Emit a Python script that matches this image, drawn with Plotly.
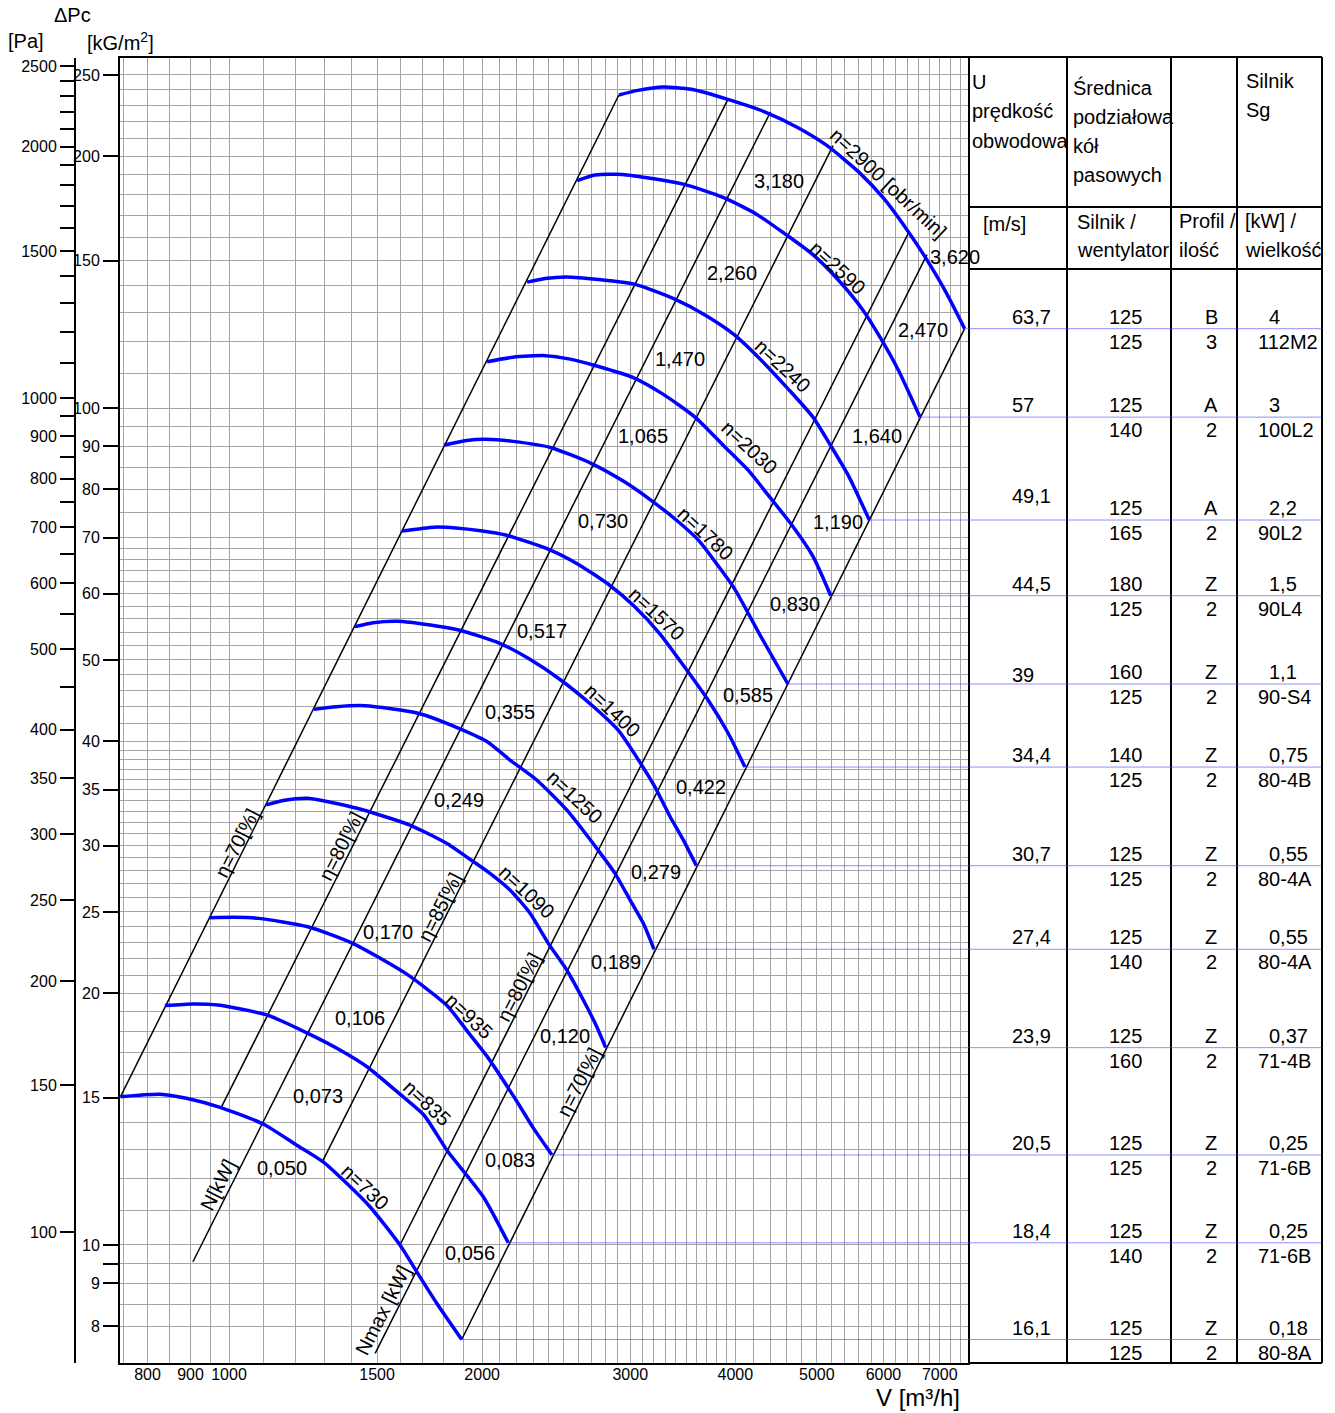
import numpy as np
import plotly.graph_objects as go

W, H = 1335, 1413
FONT = "Liberation Sans, Arial, sans-serif"

# ---------------- data: fan curves  V [m3/h]  vs  dPc [kG/m2] ----------------
rpm = [730, 835, 935, 1090, 1250, 1400, 1570, 1780, 2030, 2240, 2590, 2900]

v730 = [743, 828, 890, 976, 1098, 1204, 1294, 1380, 1471, 1597, 1672, 1766, 1891]
p730 = [15.04, 15.14, 14.97, 14.6, 13.95, 13.16, 12.57, 11.85, 11.11, 10.0, 9.29, 8.52, 7.71]

v835 = [839, 907, 970, 1109, 1241, 1355, 1459, 1601, 1705, 1815, 2006, 2148]
p835 = [19.32, 19.41, 19.35, 18.83, 17.9, 17.1, 16.33, 15.11, 14.3, 12.99, 11.42, 10.06]

v935 = [947, 1015, 1085, 1241, 1403, 1622, 1814, 1925, 2028, 2194, 2300, 2421]
p935 = [24.6, 24.63, 24.56, 24.0, 22.93, 21.11, 19.35, 17.95, 16.79, 14.9, 13.8, 12.81]

v1090 = [1107, 1160, 1241, 1419, 1641, 1814, 1940, 2043, 2158, 2280, 2397, 2521, 2638, 2737, 2805]
p1090 = [33.56, 33.96, 34.18, 33.25, 31.75, 30.2, 28.84, 27.8, 26.56, 24.91, 22.93, 21.31, 19.62, 18.23, 17.21]

v1250 = [1262, 1342, 1451, 1678, 1876, 2028, 2158, 2322, 2521, 2737, 2877, 2998, 3109, 3201]
p1250 = [43.65, 43.97, 44.09, 43.18, 41.43, 39.93, 37.97, 35.94, 33.1, 29.78, 27.8, 25.84, 24.23, 22.56]

v1400 = [1411, 1484, 1587, 1735, 1876, 2098, 2269, 2480, 2713, 2901, 3068, 3208, 3346, 3470, 3595]
p1400 = [54.8, 55.4, 55.62, 55.05, 54.3, 52.35, 50.23, 47.32, 43.97, 41.24, 37.97, 35.29, 32.48, 30.46, 28.39]

v1570 = [1606, 1754, 1860, 1992, 2133, 2399, 2594, 2833, 3033, 3255, 3467, 3712, 3921, 4107]
p1570 = [71.29, 72.06, 71.9, 71.35, 70.51, 67.79, 65.17, 61.45, 57.95, 53.7, 49.31, 44.79, 40.9, 37.24]

v1780 = [1803, 1916, 2022, 2176, 2411, 2698, 2946, 3185, 3411, 3618, 3799, 3990, 4280, 4619]
p1780 = [90.34, 91.48, 91.76, 91.23, 89.72, 85.83, 81.73, 77.42, 73.34, 69.47, 65.17, 60.84, 53.55, 46.8]

v2030 = [2027, 2176, 2376, 2544, 2724, 3033, 3281, 3582, 3874, 4148, 4398, 4662, 4947, 5194]
p2030 = [113.6, 115.0, 115.5, 114.4, 112.4, 108.6, 103.9, 97.53, 90.16, 84.17, 78.19, 72.62, 66.48, 59.67]

v2240 = [2262, 2376, 2519, 2751, 3033, 3379, 3689, 3990, 4271, 4618, 4947, 5194, 5455, 5773]
p2240 = [141.4, 142.8, 143.4, 142.4, 140.6, 135.1, 129.0, 122.3, 114.7, 105.5, 97.53, 90.16, 82.93, 73.48]

v2590 = [2594, 2724, 2888, 3155, 3479, 3874, 4229, 4573, 4947, 5297, 5673, 5956, 6255, 6632]
p2590 = [186.9, 189.8, 190.2, 188.3, 185.0, 178.4, 170.7, 161.7, 152.5, 142.4, 130.9, 121.1, 110.8, 97.53]

v2900 = [2908, 3063, 3281, 3547, 3893, 4334, 4755, 5143, 5618, 6015, 6377, 6697, 7101, 7493]
p2900 = [236.6, 239.6, 241.9, 240.3, 234.2, 225.9, 216.1, 205.8, 191.1, 177.6, 164.1, 152.5, 138.2, 124.4]

# ---------------- data: straight (dp ~ V^2) lines ----------------
eta70_left_v, eta70_left_p = [743, 2908], [15.04, 236.6]
eta80_left_v, eta80_left_p = [980, 3924], [14.63, 234.2]
n_line_v, n_line_p = [906, 4405], [9.55, 225.9]
eta85_v, eta85_p = [1294, 5227], [12.63, 205.8]
eta80_right_v, eta80_right_p = [1597, 6440], [10.0, 162.6]
nmax_line_v, nmax_line_p = [1492, 6760], [7.42, 152.5]
eta70_right_v, eta70_right_p = [1891, 7493], [7.71, 124.4]

# power values [kW]
power_n = [0.050, 0.073, 0.106, 0.170, 0.249, 0.355, 0.517, 0.730, 1.065, 1.470, 2.260, 3.180]
power_nmax = [0.056, 0.083, 0.120, 0.189, 0.279, 0.422, 0.585, 0.830, 1.190, 1.640, 2.470, 3.620]

# ---------------- data: table (rows top -> bottom, i.e. 2900 ... 730 rpm) ----------------
tab_u = ["63,7", "57", "49,1", "44,5", "39", "34,4", "30,7", "27,4", "23,9", "20,5", "18,4", "16,1"]
tab_d_motor = ["125", "125", "125", "180", "160", "140", "125", "125", "125", "125", "125", "125"]
tab_d_fan = ["125", "140", "165", "125", "125", "125", "125", "140", "160", "125", "140", "125"]
tab_profile = ["B", "A", "A", "Z", "Z", "Z", "Z", "Z", "Z", "Z", "Z", "Z"]
tab_count = ["3", "2", "2", "2", "2", "2", "2", "2", "2", "2", "2", "2"]
tab_kw = ["4", "3", "2,2", "1,5", "1,1", "0,75", "0,55", "0,55", "0,37", "0,25", "0,25", "0,18"]
tab_size = ["112M2", "100L2", "90L2", "90L4", "90-S4", "80-4B", "80-4A", "80-4A", "71-4B", "71-6B", "71-6B", "80-8A"]

# ---------------- axis ticks / grid ----------------
x_labels = [800, 900, 1000, 1500, 2000, 3000, 4000, 5000, 6000, 7000]
x_grid = [750, 800, 850, 900, 950] + list(range(1000, 4000, 100)) + list(range(4000, 7500, 200))
y_labels = [8, 9, 10, 15, 20, 25, 30, 35, 40, 50, 60, 70, 80, 90, 100, 150, 200, 250]
y_grid = [8, 8.5, 9, 9.5] + list(range(10, 40)) + list(range(40, 70, 2)) + list(range(70, 100, 5)) + list(range(100, 260, 10))
pa_labels = [100, 150, 200, 250, 300, 350, 400, 500, 600, 700, 800, 900, 1000, 1500, 2000, 2500]
pa_minor = [450, 550, 650, 750, 850, 950, 1100, 1200, 1300, 1400, 1600, 1700, 1800, 1900, 2100, 2200, 2300, 2400]

# ---------------- layout helpers (pixel -> paper) ----------------
def px(x):
    return x / W


def py(y):
    return 1 - y / H


XR = [2.8704, 3.8787]
YR = [0.859, 2.4182]
GRID = "#a4a4a4"
LBL = 20     # in-plot label size
TAB = 20     # table text size
TICK = 16

fig = go.Figure()

curves = [(v730, p730), (v835, p835), (v935, p935), (v1090, p1090), (v1250, p1250), (v1400, p1400),
          (v1570, p1570), (v1780, p1780), (v2030, p2030), (v2240, p2240), (v2590, p2590), (v2900, p2900)]

lines = [(eta70_left_v, eta70_left_p), (eta80_left_v, eta80_left_p), (n_line_v, n_line_p),
         (eta85_v, eta85_p), (eta80_right_v, eta80_right_p), (nmax_line_v, nmax_line_p),
         (eta70_right_v, eta70_right_p)]

for v, p in lines:
    fig.add_trace(go.Scatter(x=v, y=p, mode="lines", line=dict(color="black", width=1.5),
                             hoverinfo="skip", showlegend=False))

for v, p in curves:
    fig.add_trace(go.Scatter(x=v, y=p, mode="lines",
                             line=dict(color="#0000ff", width=3.5, shape="spline", smoothing=0.6),
                             hoverinfo="skip", showlegend=False))

# invisible trace so the Pa axis is active
fig.add_trace(go.Scatter(x=v730, y=[p * 9.81 for p in p730], yaxis="y2", mode="lines",
                         line=dict(width=0), opacity=0, hoverinfo="skip", showlegend=False))

ann = []
shapes = []


def text(x, y, s, size=LBL, xanchor="center", yanchor="middle", angle=0, xref="paper", yref="paper",
         yshift=0, align="center"):
    ann.append(dict(x=x, y=y, xref=xref, yref=yref, text=s, showarrow=False, xanchor=xanchor,
                    yanchor=yanchor, textangle=angle, yshift=yshift, align=align,
                    font=dict(family=FONT, size=size, color="black")))


def fmt(v):
    return f"{v:.3f}".replace(".", ",")


# ---- rpm labels (positions as log10 of data, as plotly annotations need on log axes)
rpm_pos = [(3.1617, 1.0693), (3.2354, 1.1697), (3.2854, 1.2736), (3.3543, 1.4217), (3.4114, 1.5352),
           (3.4554, 1.6392), (3.5089, 1.7539), (3.566, 1.8507), (3.6183, 1.9534), (3.6587, 2.0502),
           (3.7241, 2.1673), (3.7836, 2.2688)]
for i, (n, (lx, ly)) in enumerate(zip(rpm, rpm_pos)):
    s = f"n={n}" + (" [obr/min]" if i == len(rpm) - 1 else "")
    text(lx, ly, s, angle=43, xref="x", yref="y")

# ---- power labels
n_pos = [(3.063, 1.092), (3.1058, 1.178), (3.1558, 1.2712), (3.1891, 1.374), (3.2735, 1.5317),
         (3.3341, 1.6368), (3.3722, 1.7336), (3.4447, 1.865), (3.4923, 1.9665), (3.5363, 2.0586),
         (3.5981, 2.1613), (3.654, 2.2712)]
nmax_pos = [(3.2866, 0.9904), (3.3341, 1.1016), (3.3995, 1.2497), (3.4602, 1.3381), (3.5077, 1.4456),
            (3.5612, 1.5472), (3.6171, 1.6571), (3.673, 1.7658), (3.7241, 1.8638), (3.7705, 1.9665),
            (3.8252, 2.0932), (3.8633, 2.1804)]
for val, (lx, ly) in zip(power_n, n_pos):
    text(lx, ly, fmt(val), xref="x", yref="y")
for val, (lx, ly) in zip(power_nmax, nmax_pos):
    text(lx, ly, fmt(val), xref="x", yref="y")

# ---- line labels
line_labels = [("η=70[%]", 3.0095, 1.4803), ("η=80[%]", 3.1332, 1.4767), ("η=85[%]", 3.2509, 1.4038),
               ("η=80[%]", 3.3448, 1.3082), ("η=70[%]", 3.4162, 1.1947), ("N[kW]", 2.9869, 1.0717),
               ("Nmax [kW]", 3.1831, 0.9223)]
for s, lx, ly in line_labels:
    text(lx, ly, s, angle=-63, xref="x", yref="y")

# ---- axis titles
text(px(72), py(15), "ΔPc", size=20)
text(px(26), py(41), "[Pa]", size=20)
text(px(120), py(41), "[kG/m<sup>2</sup>]", size=20)
text(px(918), py(1397), "V [m³/h]", size=24)

# ---- table frame
TL, TR = 968, 1322
TT, TB = 57, 1363
tab_lines = [(TL, TT, TR, TT), (TL, TB, TR, TB), (TR, TT, TR, TB), (1067, TT, 1067, TB),
             (1171, TT, 1171, TB), (1237, TT, 1237, TB), (TL, 207, TR, 207), (TL, 269, TR, 269)]
for x0, y0, x1, y1 in tab_lines:
    shapes.append(dict(type="line", xref="paper", yref="paper", x0=px(x0), y0=py(y0), x1=px(x1), y1=py(y1),
                       line=dict(color="black", width=2)))

# header texts
for s, x, y in [("U", 970, 82), ("prędkość", 970, 111), ("obwodowa", 970, 141),
                ("Średnica", 1071, 88), ("podziałowa", 1071, 117), ("kół", 1071, 146), ("pasowych", 1071, 175),
                ("Silnik", 1244, 81), ("Sg", 1244, 110),
                ("Silnik /", 1075, 222), ("wentylator", 1075, 250),
                ("Profil /", 1177, 221), ("ilość", 1177, 250),
                ("[kW] /", 1243, 221), ("wielkość", 1243, 250)]:
    text(px(x), py(y), s, size=TAB, xanchor="left")
text(px(1004), py(224), "[m/s]", size=TAB)

# rows: aligned to the end point of each curve (top row = highest speed)
ends = [(c[0][-1], c[1][-1]) for c in curves][::-1]
u_shift = {2: 24, 4: 9}
for i, (ve, pe) in enumerate(ends):
    ly = np.log10(pe)
    text(px(1010), ly, tab_u[i], size=TAB, xanchor="left", yref="y", yshift=u_shift.get(i, 12))
    text(px(1125), ly, tab_d_motor[i], size=TAB, yref="y", yshift=12)
    text(px(1125), ly, tab_d_fan[i], size=TAB, yref="y", yshift=-13)
    text(px(1211), ly, tab_profile[i], size=TAB, yref="y", yshift=12)
    text(px(1211), ly, tab_count[i], size=TAB, yref="y", yshift=-13)
    text(px(1267), ly, tab_kw[i], size=TAB, xanchor="left", yref="y", yshift=12)
    text(px(1256), ly, tab_size[i], size=TAB, xanchor="left", yref="y", yshift=-13)
    # thin blue guide line from the curve end across the table
    shapes.append(dict(type="line", xref="x", yref="y", x0=ve, x1=10 ** XR[1], y0=pe, y1=pe,
                       line=dict(color="rgba(70,70,255,0.6)", width=1)))
    shapes.append(dict(type="line", xref="paper", yref="y", x0=px(TL), x1=px(TR), y0=pe, y1=pe,
                       line=dict(color="rgba(70,70,255,0.6)", width=1)))

x_minor = [g for g in x_grid if g not in x_labels]
y_major = y_labels + [9.5]
y_minor = [g for g in y_grid if g not in y_major]

fig.update_layout(
    width=W, height=H,
    margin=dict(l=0, r=0, t=0, b=0, pad=0),
    paper_bgcolor="white", plot_bgcolor="white",
    showlegend=False,
    font=dict(family=FONT, size=TICK, color="black"),
    xaxis=dict(type="log", range=XR, domain=[px(120), px(968)], automargin=False,
               tickmode="array", tickvals=x_labels, ticktext=[str(v) for v in x_labels],
               ticks="", ticklabelstandoff=-4, showgrid=True, gridcolor=GRID, gridwidth=1,
               minor=dict(tickmode="array", tickvals=x_minor, showgrid=True, gridcolor=GRID, gridwidth=1, ticks=""),
               showline=True, linecolor="black", linewidth=2, mirror=True,
               tickfont=dict(family=FONT, size=TICK), zeroline=False),
    yaxis=dict(type="log", range=YR, domain=[py(1363), py(58)], automargin=False,
               tickmode="array", tickvals=y_major, ticktext=[str(v) for v in y_labels] + [" "],
               ticks="outside", ticklen=15, tickwidth=2, tickcolor="black",
               showgrid=True, gridcolor=GRID, gridwidth=1,
               minor=dict(tickmode="array", tickvals=y_minor, showgrid=True, gridcolor=GRID, gridwidth=1, ticks=""),
               showline=True, linecolor="black", linewidth=2, mirror=True,
               tickfont=dict(family=FONT, size=TICK), zeroline=False),
    yaxis2=dict(type="log", range=[1.843, 3.4075], overlaying="y", anchor="free", position=px(75),
                side="left", automargin=False,
                tickmode="array", tickvals=pa_labels, ticktext=[str(v) for v in pa_labels],
                ticks="outside", ticklen=14, tickwidth=2, tickcolor="black",
                minor=dict(tickmode="array", tickvals=pa_minor, ticks="outside", ticklen=14, tickwidth=2,
                           tickcolor="black", showgrid=False),
                showgrid=False, showline=True, linecolor="black", linewidth=2, zeroline=False,
                tickfont=dict(family=FONT, size=TICK)),
    annotations=ann,
    shapes=shapes,
)

fig.write_html("out.html", config={"displayModeBar": False},
               post_script="document.body.style.margin='0';")
